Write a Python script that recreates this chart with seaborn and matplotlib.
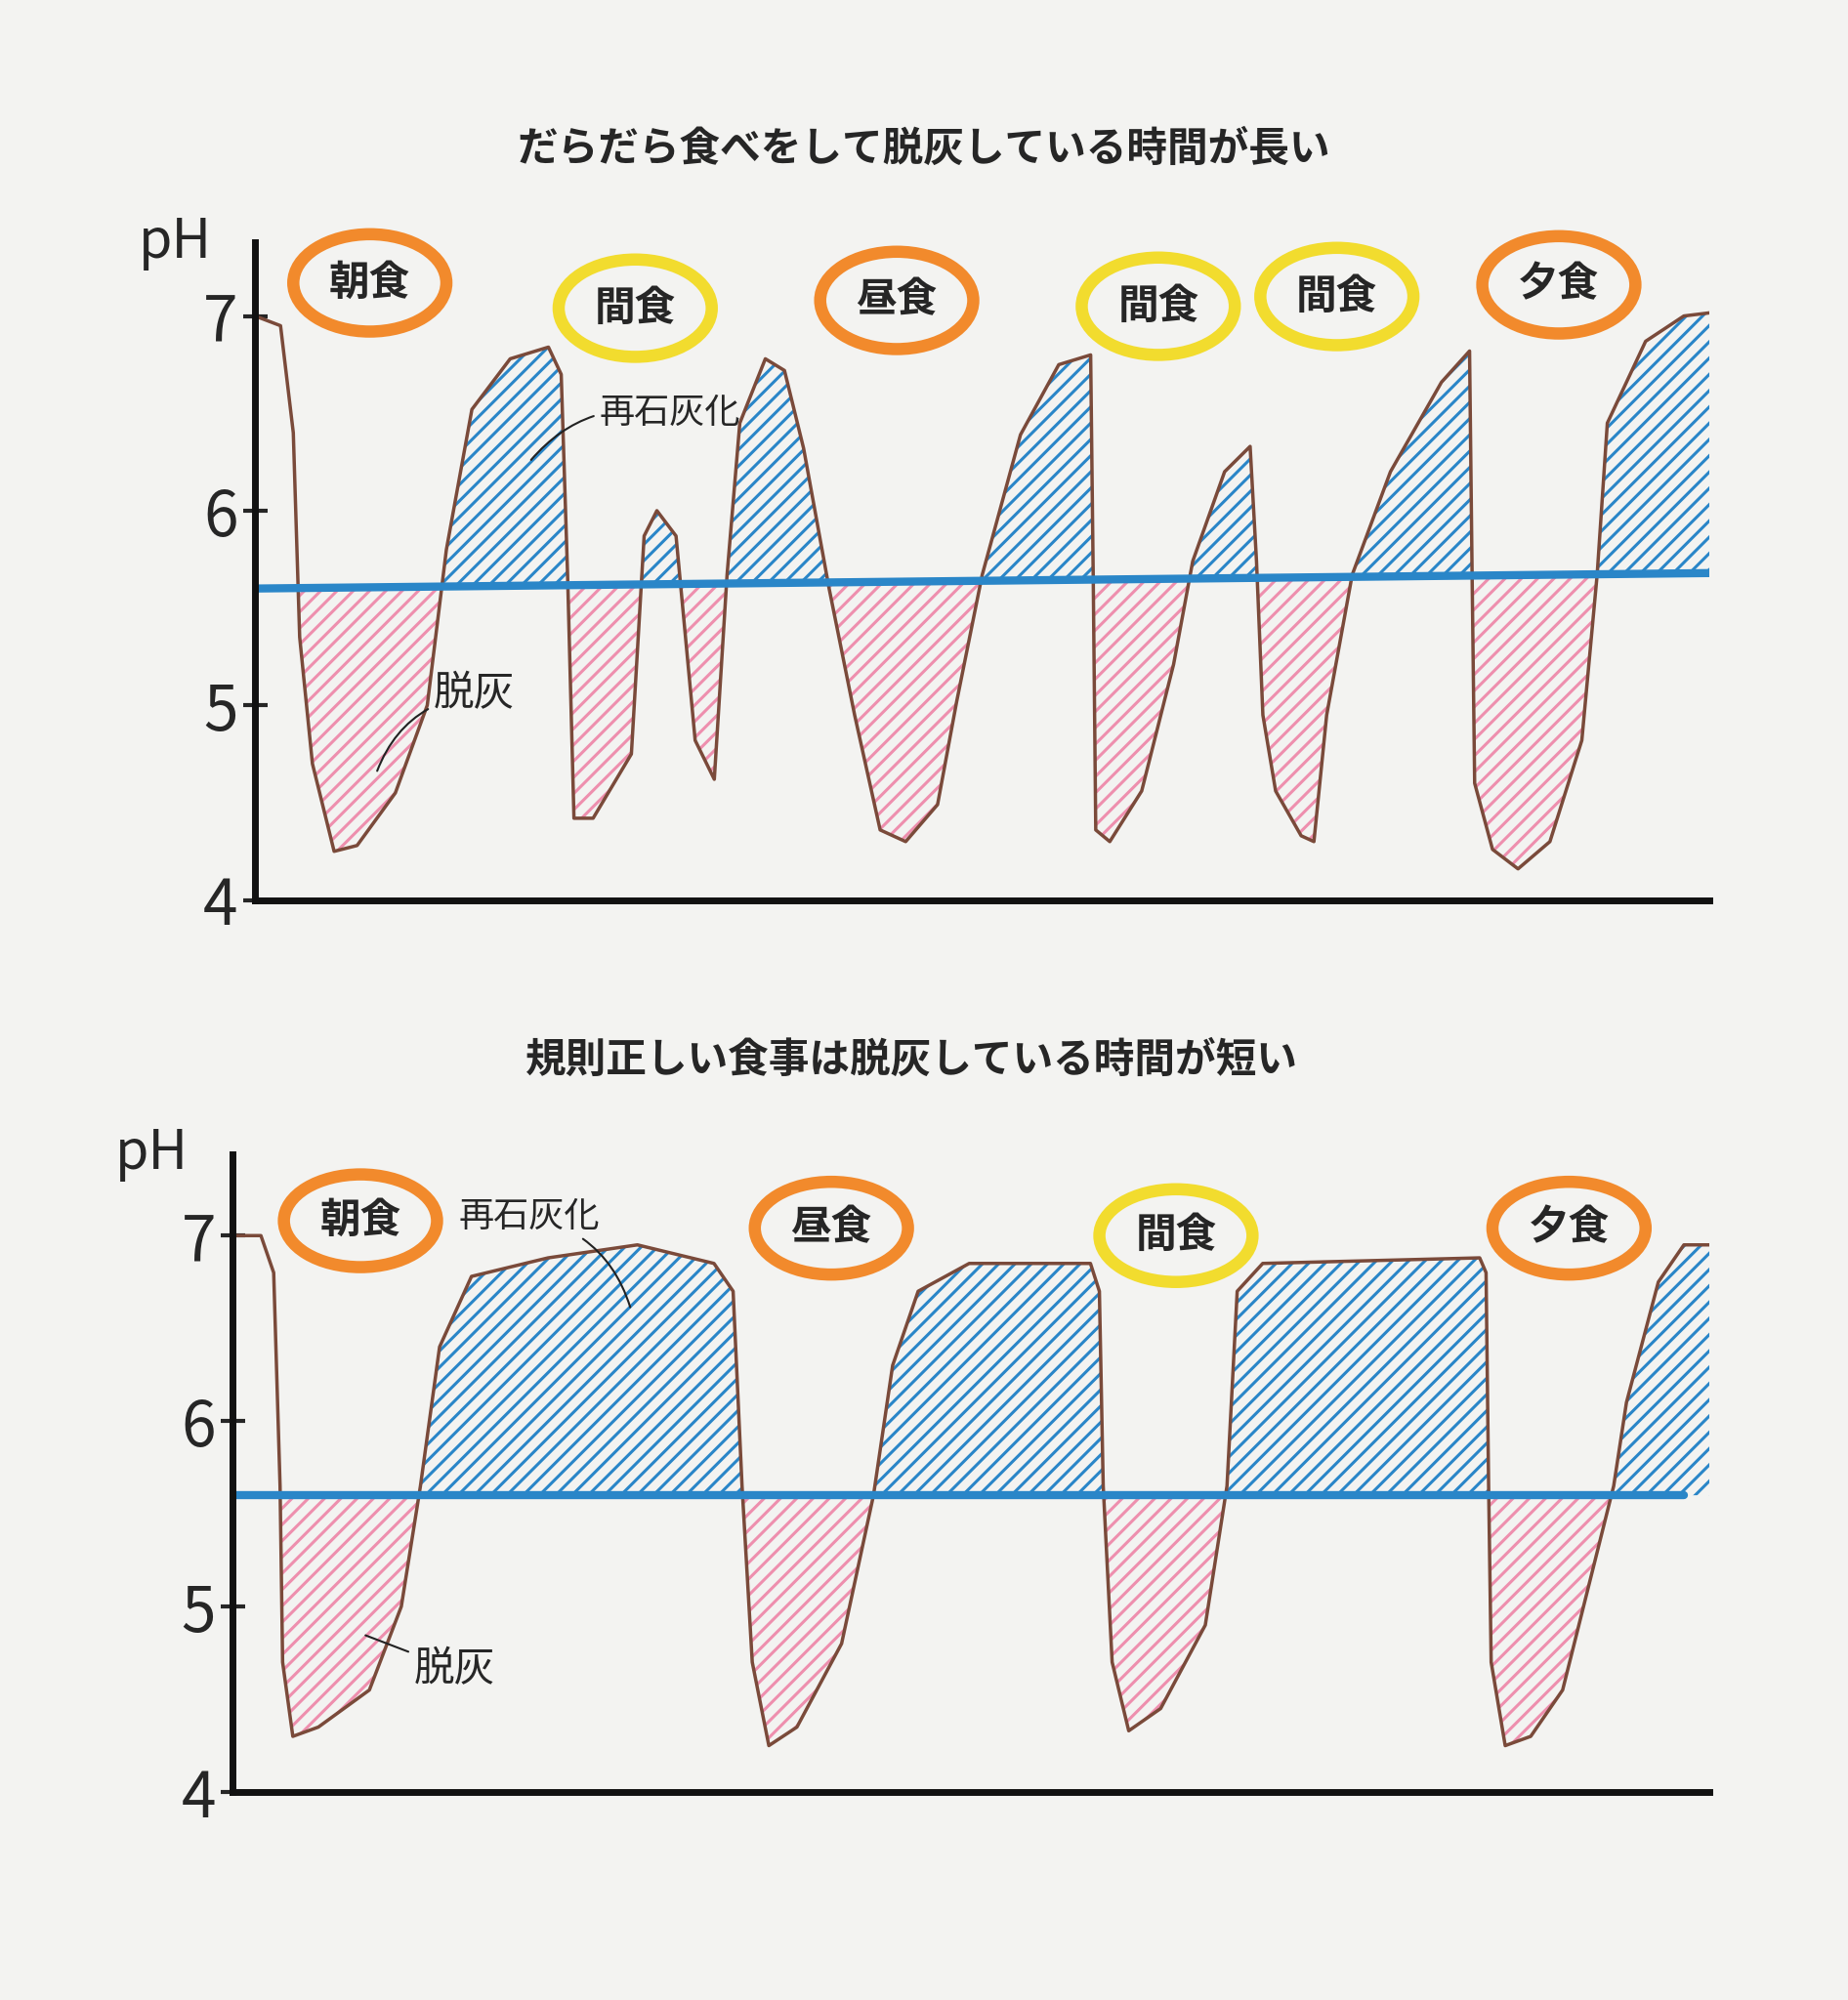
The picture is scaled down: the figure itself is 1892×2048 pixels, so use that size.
import numpy as np
import matplotlib.pyplot as plt
import seaborn as sns
from matplotlib.patches import Ellipse

sns.set_style("white")
plt.rcParams['font.family'] = ['Noto Sans CJK JP', 'DejaVu Sans']
plt.rcParams['hatch.linewidth'] = 2.2

# ---------------- DATA ----------------
# top: grazing
top_t = [200, 220, 230, 235, 245, 262, 280, 310, 335, 350, 370, 400, 430, 440, 445, 450, 465, 495, 505, 515,
         530, 545, 560, 570, 580, 600, 615, 630, 650, 670, 690, 710, 735, 750, 770, 800, 830, 855, 857, 859,
         870, 895, 920, 935, 960, 980, 985, 990, 1000, 1020, 1030, 1040, 1060, 1090, 1130, 1152, 1154, 1156,
         1170, 1190, 1215, 1240, 1252, 1260, 1290, 1320, 1345]
top_ph = [7.0, 6.95, 6.4, 5.35, 4.7, 4.25, 4.28, 4.55, 5.0, 5.8, 6.52, 6.78, 6.84, 6.7, 5.67, 4.42, 4.42, 4.75, 5.87, 6.0,
          5.87, 4.82, 4.62, 5.67, 6.45, 6.78, 6.72, 6.32, 5.6, 4.95, 4.36, 4.3, 4.49, 5.02, 5.67, 6.39, 6.75, 6.8, 5.67, 4.36,
          4.3, 4.56, 5.21, 5.74, 6.2, 6.33, 5.74, 4.95, 4.56, 4.33, 4.3, 4.95, 5.67, 6.2, 6.66, 6.82, 5.67, 4.6,
          4.26, 4.16, 4.3, 4.82, 5.67, 6.45, 6.87, 7.0, 7.02]
top_thr = [5.6, 5.68]          # critical pH at start / end
top_meals = ["朝食", "間食", "昼食", "間食", "間食", "夕食"]
top_meal_t = [290, 498, 703, 908, 1048, 1222]
top_meal_ph = [7.17, 7.04, 7.08, 7.05, 7.1, 7.16]
top_meal_kind = ["main", "snack", "main", "snack", "snack", "main"]

# bottom: regular meals
bot_t = [180, 205, 215, 220, 222, 230, 250, 290, 315, 330, 345, 370, 430, 500, 560, 575, 582, 590, 603, 625,
         660, 685, 700, 720, 760, 855, 862, 865, 872, 885, 910, 945, 962, 970, 990, 1160, 1165, 1167, 1169,
         1180, 1200, 1225, 1265, 1275, 1300, 1320, 1365]
bot_ph = [7.0, 7.0, 6.8, 5.65, 4.7, 4.3, 4.35, 4.55, 5.0, 5.65, 6.4, 6.78, 6.88, 6.95, 6.85, 6.7, 5.65, 4.7, 4.25, 4.35,
          4.8, 5.6, 6.3, 6.7, 6.85, 6.85, 6.7, 5.65, 4.7, 4.33, 4.45, 4.9, 5.65, 6.7, 6.85, 6.88, 6.8, 5.65, 4.7,
          4.25, 4.3, 4.55, 5.65, 6.1, 6.75, 6.95, 6.95]
bot_thr = [5.6, 5.6]
bot_meals = ["朝食", "昼食", "間食", "夕食"]
bot_meal_t = [283, 652, 922, 1230]
bot_meal_ph = [7.08, 7.04, 7.0, 7.04]
bot_meal_kind = ["main", "main", "snack", "main"]

BROWN = "#7a4a3a"
BLUE = "#2a86c8"
PINK = "#ee8fae"
ORANGE = "#f28a2c"
YELLOW = "#f2dc2e"


def draw(ax, t, ph, thr, thr_end, meals, mt, mph, kind, title, ytop, xleft, fill_from):
    t = np.array(t, float)
    ph = np.array(ph, float)
    line = np.interp(t, [t[0], t[-1]], thr)
    ax.fill_between(t, ph, line, where=(ph >= line) & (t >= fill_from), interpolate=True, facecolor="none",
                    edgecolor=BLUE, hatch="//", linewidth=0)
    ax.fill_between(t, ph, line, where=ph <= line, interpolate=True, facecolor="none",
                    edgecolor=PINK, hatch="//", linewidth=0)
    sns.lineplot(x=t, y=ph, ax=ax, color=BROWN, lw=2.5, sort=False, estimator=None)
    ax.plot([t[0], thr_end], [thr[0], np.interp(thr_end, [t[0], t[-1]], thr)], color=BLUE, lw=6,
            solid_capstyle="round")
    for m, x, y, k in zip(meals, mt, mph, kind):
        col = ORANGE if k == "main" else YELLOW
        ax.add_patch(Ellipse((x, y), 120, 0.5, facecolor="none", edgecolor=col, lw=9, clip_on=False))
        ax.text(x, y, m, fontsize=30, fontweight="bold", ha="center", va="center", clip_on=False)
    ax.set_xlim(xleft, 1340)
    ax.set_ylim(4, ytop)
    ax.set_yticks([4, 5, 6, 7])
    ax.set_yticklabels(["4", "5", "6", "7"], fontsize=46)
    ax.set_xticks([])
    ax.tick_params(axis="y", length=18, width=3, direction="inout", left=True)
    for s in ["top", "right"]:
        ax.spines[s].set_visible(False)
    for s in ["left", "bottom"]:
        ax.spines[s].set_linewidth(5)
        ax.spines[s].set_color("#111111")
    ax.text(-0.055, 1.0, "pH", transform=ax.transAxes, fontsize=40, ha="center", va="center")
    ax.set_facecolor("none")
    ax.set_title(title, fontsize=30, fontweight="bold", pad=60, x=0.46)


fig = plt.figure(figsize=(18.92, 20.48), dpi=100)
fig.patch.set_facecolor("#f3f3f1")
ax1 = fig.add_axes([0.138, 0.55, 0.787, 0.329])
ax2 = fig.add_axes([0.126, 0.104, 0.799, 0.319])

draw(ax1, top_t, top_ph, top_thr, 1350, top_meals, top_meal_t, top_meal_ph, top_meal_kind,
     "だらだら食べをして脱灰している時間が長い", 7.38, 200, 300)
draw(ax2, bot_t, bot_ph, bot_thr, 1320, bot_meals, bot_meal_t, bot_meal_ph, bot_meal_kind,
     "規則正しい食事は脱灰している時間が短い", 7.44, 183, 300)

# annotations
ax1.annotate("再石灰化", xy=(415, 6.25), xytext=(470, 6.45), fontsize=26,
             arrowprops=dict(arrowstyle="-", color="#222222", lw=1.5, connectionstyle="arc3,rad=0.3"))
ax1.annotate("脱灰", xy=(295, 4.65), xytext=(340, 5.0), fontsize=30,
             arrowprops=dict(arrowstyle="-", color="#222222", lw=1.5, connectionstyle="arc3,rad=0.3"))
ax2.annotate("再石灰化", xy=(495, 6.6), xytext=(360, 7.05), fontsize=26,
             arrowprops=dict(arrowstyle="-", color="#222222", lw=1.5, connectionstyle="arc3,rad=-0.3"))
ax2.annotate("脱灰", xy=(285, 4.85), xytext=(325, 4.6), fontsize=30,
             arrowprops=dict(arrowstyle="-", color="#222222", lw=1.5))

fig.savefig("out.png", dpi=100, facecolor=fig.get_facecolor())
